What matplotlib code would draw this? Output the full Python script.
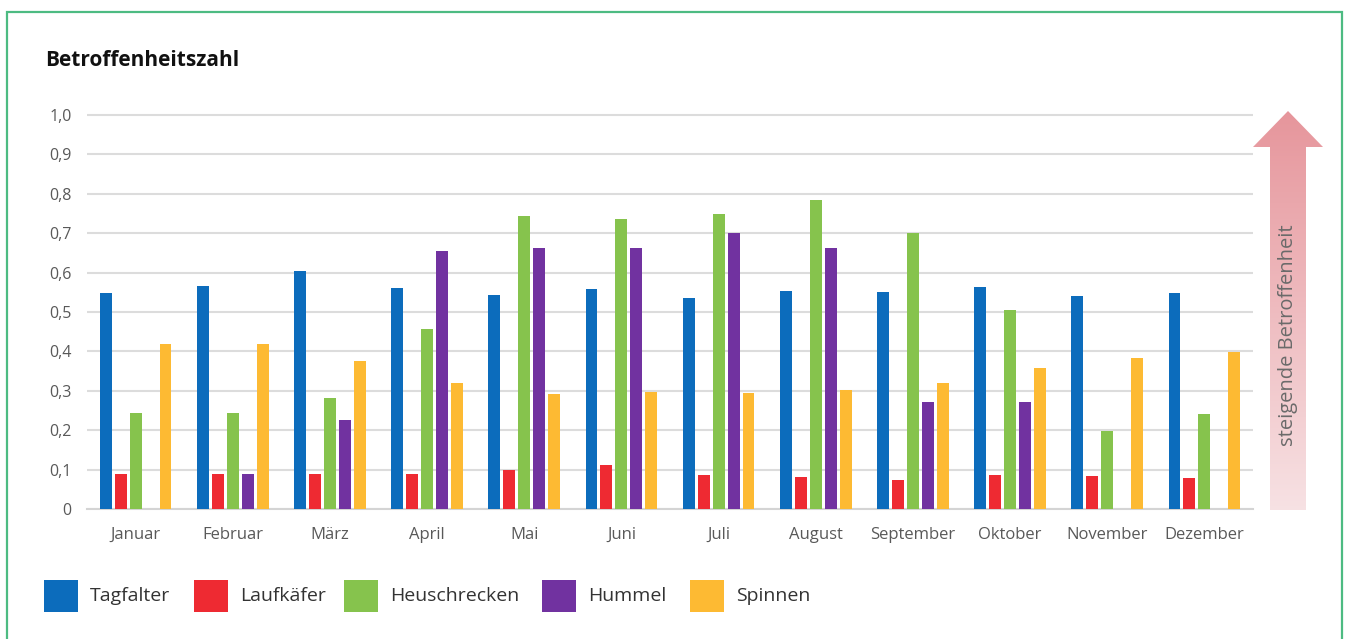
import matplotlib
matplotlib.use("Agg")
import matplotlib.pyplot as plt
import numpy as np
from matplotlib.patches import Rectangle, Polygon
from matplotlib.colors import LinearSegmentedColormap

months = ["Januar", "Februar", "März", "April", "Mai", "Juni", "Juli", "August",
          "September", "Oktober", "November", "Dezember"]
series = ["Tagfalter", "Laufkäfer", "Heuschrecken", "Hummel", "Spinnen"]
tagfalter    = [0.548, 0.566, 0.604, 0.561, 0.543, 0.559, 0.535, 0.553, 0.552, 0.563, 0.540, 0.547]
laufkaefer   = [0.090, 0.090, 0.090, 0.089, 0.100, 0.112, 0.086, 0.081, 0.074, 0.086, 0.084, 0.078]
heuschrecken = [0.244, 0.244, 0.282, 0.457, 0.744, 0.736, 0.748, 0.784, 0.700, 0.505, 0.198, 0.241]
hummel       = [0.000, 0.090, 0.226, 0.655, 0.662, 0.662, 0.700, 0.662, 0.272, 0.272, 0.000, 0.000]
spinnen      = [0.419, 0.419, 0.376, 0.320, 0.291, 0.296, 0.294, 0.302, 0.321, 0.359, 0.382, 0.398]
values = [tagfalter, laufkaefer, heuschrecken, hummel, spinnen]
colors = ["#0C6CBC", "#EE2A32", "#86C34D", "#7132A0", "#FDBA33"]
yticks = [0, 0.1, 0.2, 0.3, 0.4, 0.5, 0.6, 0.7, 0.8, 0.9, 1.0]
yticklabels = ["0", "0,1", "0,2", "0,3", "0,4", "0,5", "0,6", "0,7", "0,8", "0,9", "1,0"]

plt.rcParams['font.family'] = ['Open Sans', 'DejaVu Sans']

W, H = 1346, 639
fig = plt.figure(figsize=(W / 100, H / 100), dpi=100)
fig.patch.set_facecolor("white")

def fx(px):
    return px / W

def fy(py):
    return 1 - py / H

# green frame
fig.add_artist(Rectangle((fx(7), fy(700)), fx(1342) - fx(7), fy(12) - fy(700),
                         transform=fig.transFigure, fill=False,
                         edgecolor="#4DBB82", linewidth=1.6, clip_on=False))

# title
fig.text(fx(45), fy(60), "Betroffenheitszahl", fontsize=15, fontweight="bold",
         color="#111111", va="center", ha="left")

# main axes
ymax = 1.005
y0px, ppu = 509, 394
left, right = 87, 1253
top = y0px - ppu * ymax
ax = fig.add_axes([fx(left), fy(y0px), fx(right) - fx(left), fy(top) - fy(y0px)])
x = np.arange(len(months))
step, width = 0.154, 0.123
for i, (name, vals, c) in enumerate(zip(series, values, colors)):
    ax.bar(x + (i - 2) * step, vals, width=width, color=c, label=name, zorder=3)

ax.set_xlim(-0.5, len(months) - 0.5)
ax.set_ylim(0, ymax)
ax.set_yticks(yticks)
ax.set_yticklabels(yticklabels)
ax.set_xticks(x)
ax.set_xticklabels(months)
ax.tick_params(axis="both", length=0, labelcolor="#595959")
ax.tick_params(axis="y", pad=11, labelsize=11.5)
ax.tick_params(axis="x", pad=13, labelsize=12)
for s in ["top", "right", "left"]:
    ax.spines[s].set_visible(False)
ax.spines["bottom"].set_color("#D4D4D4")
ax.spines["bottom"].set_linewidth(1.5)
ax.grid(axis="y", color="#DCDCDC", linewidth=1.5, zorder=0)
ax.set_axisbelow(True)

# arrow with gradient
ax2 = fig.add_axes([fx(1250), fy(512), fx(1326) - fx(1250), fy(108) - fy(512)])
ax2.set_xlim(1250, 1326)
ax2.set_ylim(512, 108)
ax2.axis("off")
grad = np.linspace(0, 1, 256).reshape(-1, 1)
cmap = LinearSegmentedColormap.from_list("arr", ["#E6959B", "#F7E2E4"])
im = ax2.imshow(grad, extent=[1250, 1326, 512, 108], aspect="auto", cmap=cmap,
                origin="upper")
arrow_pts = [(1270, 510), (1270, 147), (1253, 147), (1288, 111), (1323, 147),
             (1306, 147), (1306, 510)]
poly = Polygon(arrow_pts, closed=True, transform=ax2.transData, facecolor="none",
               edgecolor="none")
ax2.add_patch(poly)
im.set_clip_path(poly)
fig.text(fx(1288), fy(335), "steigende Betroffenheit", rotation=90, fontsize=14.5,
         color="#6A6A6A", ha="center", va="center")

# legend
leg_sq = [44, 194, 344, 542, 690]
for sx, name, c in zip(leg_sq, series, colors):
    fig.add_artist(Rectangle((fx(sx), fy(612)), fx(34), 32 / H,
                             transform=fig.transFigure, facecolor=c,
                             edgecolor="none"))
    fig.text(fx(sx + 46), fy(596), name, fontsize=14, color="#333333",
             va="center", ha="left")

fig.savefig("out.png", dpi=100, facecolor="white")
